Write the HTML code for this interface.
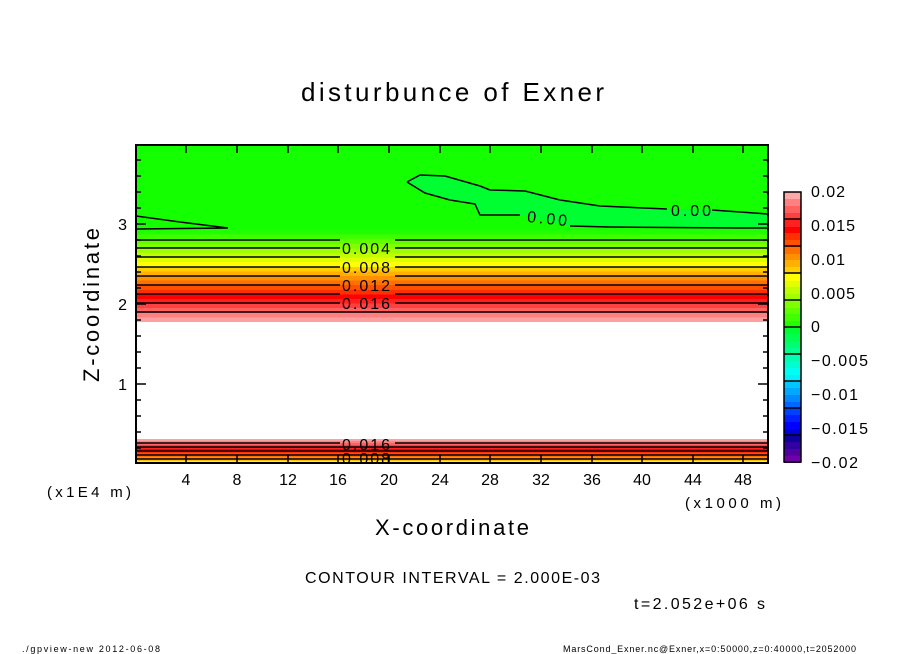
<!DOCTYPE html>
<html><head><meta charset="utf-8"><style>
html,body{margin:0;padding:0;background:#fff}
svg{display:block;font-family:"Liberation Sans","DejaVu Sans",sans-serif}
</style></head><body>
<svg width="904" height="654" viewBox="0 0 904 654" xmlns="http://www.w3.org/2000/svg">
<rect width="904" height="654" fill="#fff"/>
<text x="301" y="101" font-size="26" textLength="303" lengthAdjust="spacing">disturbunce of Exner</text>
<rect x="136" y="145" width="632" height="85" fill="#14ff00"/>
<g shape-rendering="crispEdges">
<rect x="136" y="230" width="632" height="4.6" fill="#20ff00"/>
<rect x="136" y="234.6" width="632" height="4.6" fill="#40ff00"/>
<rect x="136" y="239.2" width="632" height="4.6" fill="#60ff00"/>
<rect x="136" y="243.8" width="632" height="4.6" fill="#80ff00"/>
<rect x="136" y="248.4" width="632" height="4.6" fill="#a0ff00"/>
<rect x="136" y="253" width="632" height="4.6" fill="#c0ff00"/>
<rect x="136" y="257.6" width="632" height="4.6" fill="#e0ff00"/>
<rect x="136" y="262.2" width="632" height="4.6" fill="#ffff00"/>
<rect x="136" y="266.8" width="632" height="4.6" fill="#ffd000"/>
<rect x="136" y="271.4" width="632" height="4.6" fill="#ffb000"/>
<rect x="136" y="276" width="632" height="4.6" fill="#ff9000"/>
<rect x="136" y="280.6" width="632" height="4.6" fill="#ff7000"/>
<rect x="136" y="285.2" width="632" height="4.6" fill="#ff5000"/>
<rect x="136" y="289.8" width="632" height="4.6" fill="#ff3000"/>
<rect x="136" y="294.4" width="632" height="4.6" fill="#ff0000"/>
<rect x="136" y="299" width="632" height="4.6" fill="#ff2020"/>
<rect x="136" y="303.6" width="632" height="4.6" fill="#ff4040"/>
<rect x="136" y="308.2" width="632" height="4.6" fill="#ff6060"/>
<rect x="136" y="312.8" width="632" height="4.6" fill="#ff8080"/>
<rect x="136" y="317.4" width="632" height="4.6" fill="#ffa0a0"/>
<rect x="136" y="439" width="632" height="2" fill="#ffa0a0"/>
<rect x="136" y="441" width="632" height="2" fill="#ff8080"/>
<rect x="136" y="443" width="632" height="2" fill="#ff6060"/>
<rect x="136" y="445" width="632" height="2" fill="#ff4040"/>
<rect x="136" y="447" width="632" height="2" fill="#ff2020"/>
<rect x="136" y="449" width="632" height="2" fill="#ff0000"/>
<rect x="136" y="451" width="632" height="2" fill="#ff3000"/>
<rect x="136" y="453" width="632" height="2" fill="#ff5000"/>
<rect x="136" y="455" width="632" height="2" fill="#ff7000"/>
<rect x="136" y="457" width="632" height="2" fill="#ff9000"/>
<rect x="136" y="459" width="632" height="2" fill="#ffc000"/>
<rect x="136" y="461" width="632" height="2" fill="#ffff00"/>
</g>
<path d="M407,181 L420,175 L445,176 L480,186 L490,190 L525,191 L560,200 L600,206 L667,209 L712,210 L768,214 L768,228 L740,228 L610,227 L570,226 L520,215 L480,215 L475,204 L450,200 L425,193 Z" fill="#00ff30"/>
<g fill="none" stroke="#000" stroke-width="1.5">
<path d="M407,182 L420,175 L445,176 L480,186 L490,190 L525,191 L560,200 L600,206 L667,209"/>
<path d="M712,210 L768,214"/>
<path d="M407,182 L425,193 L450,200 L475,204 L480,215 L520,215"/>
<path d="M570,226 L610,227 L740,228 L768,228"/>
<path d="M136,216 L180,222 L228,228 L136,229"/>
<path d="M136,240 L340,240 M395,240 L768,240"/>
<path d="M136,248 L340,248 M395,248 L768,248"/>
<path d="M136,257 L340,257 M395,257 L768,257"/>
<path d="M136,267 L340,267 M395,267 L768,267"/>
<path d="M136,276 L340,276 M395,276 L768,276"/>
<path d="M136,285 L340,285 M395,285 L768,285"/>
<path d="M136,294 L340,294 M395,294 L768,294"/>
<path d="M136,303 L340,303 M395,303 L768,303"/>
<path d="M136,312 L768,312"/>
<path d="M136,443 L340,443 M395,443 L768,443"/>
<path d="M136,447 L768,447"/>
<path d="M136,451 L768,451"/>
<path d="M136,455 L768,455"/>
<path d="M136,459 L768,459"/>
</g>
<g font-size="16">
<text x="342" y="254" textLength="48">0.004</text>
<text x="342" y="273" textLength="48">0.008</text>
<text x="342" y="291" textLength="48">0.012</text>
<text x="342" y="309" textLength="48">0.016</text>
<text x="671" y="216" textLength="40">0.00</text>
<text x="527" y="224" textLength="40" transform="rotate(6 547 220)">0.00</text>
<text x="342" y="450" textLength="48">0.016</text>
<text x="342" y="464" textLength="48">0.008</text>
</g>
<rect x="136" y="145" width="632" height="318" fill="none" stroke="#000" stroke-width="2"/>
<g stroke="#000" stroke-width="1.5">
<path d="M186,463v-8M237,463v-8M288,463v-8M338,463v-8M389,463v-8M440,463v-8M490,463v-8M541,463v-8M592,463v-8M642,463v-8M693,463v-8M743,463v-8"/>
<path d="M186,145v8M237,145v8M288,145v8M338,145v8M389,145v8M440,145v8M490,145v8M541,145v8M592,145v8M642,145v8M693,145v8M743,145v8"/>
<path d="M136,384h10M136,304h10M136,224h10M768,384h-10M768,304h-10M768,224h-10"/>
<path d="M136,448h5M136,432h5M136,416h5M136,400h5M136,368h5M136,352h5M136,336h5M136,320h5M136,288h5M136,272h5M136,256h5M136,240h5M136,208h5M136,192h5M136,176h5M136,160h5"/>
<path d="M768,448h-5M768,432h-5M768,416h-5M768,400h-5M768,368h-5M768,352h-5M768,336h-5M768,320h-5M768,288h-5M768,272h-5M768,256h-5M768,240h-5M768,208h-5M768,192h-5M768,176h-5M768,160h-5"/>
</g>
<g font-size="16" text-anchor="middle">
<text x="186" y="485">4</text><text x="237" y="485">8</text><text x="288" y="485">12</text>
<text x="338" y="485">16</text><text x="389" y="485">20</text><text x="440" y="485">24</text>
<text x="490" y="485">28</text><text x="541" y="485">32</text><text x="592" y="485">36</text>
<text x="642" y="485">40</text><text x="693" y="485">44</text><text x="743" y="485">48</text>
</g>
<g font-size="16" text-anchor="end">
<text x="127" y="390">1</text><text x="127" y="310">2</text><text x="127" y="230">3</text>
</g>
<text x="47" y="497" font-size="15" textLength="84">(x1E4 m)</text>
<text x="685" y="508" font-size="15" textLength="96">(x1000 m)</text>
<text x="375" y="535" font-size="22" textLength="154">X-coordinate</text>
<text x="0" y="0" font-size="22" textLength="154" transform="translate(99 382) rotate(-90)">Z-coordinate</text>
<g shape-rendering="crispEdges">
<rect x="784" y="192" width="17" height="7" fill="#ffa8a8"/>
<rect x="784" y="199" width="17" height="7" fill="#ff8080"/>
<rect x="784" y="206" width="17" height="7" fill="#ff6060"/>
<rect x="784" y="213" width="17" height="7" fill="#ff4040"/>
<rect x="784" y="220" width="17" height="7" fill="#ff2020"/>
<rect x="784" y="227" width="17" height="7" fill="#ff0000"/>
<rect x="784" y="233" width="17" height="7" fill="#ff3000"/>
<rect x="784" y="240" width="17" height="7" fill="#ff5000"/>
<rect x="784" y="247" width="17" height="7" fill="#ff7000"/>
<rect x="784" y="254" width="17" height="7" fill="#ff9000"/>
<rect x="784" y="260" width="17" height="7" fill="#ffb000"/>
<rect x="784" y="267" width="17" height="7" fill="#ffd000"/>
<rect x="784" y="274" width="17" height="7" fill="#ffff00"/>
<rect x="784" y="281" width="17" height="7" fill="#e0ff00"/>
<rect x="784" y="287" width="17" height="7" fill="#c0ff00"/>
<rect x="784" y="294" width="17" height="7" fill="#a0ff00"/>
<rect x="784" y="301" width="17" height="7" fill="#80ff00"/>
<rect x="784" y="308" width="17" height="7" fill="#60ff00"/>
<rect x="784" y="314" width="17" height="7" fill="#40ff00"/>
<rect x="784" y="321" width="17" height="7" fill="#20ff00"/>
<rect x="784" y="327" width="17" height="7" fill="#00ff30"/>
<rect x="784" y="334" width="17" height="7" fill="#00ff50"/>
<rect x="784" y="341" width="17" height="7" fill="#00ff70"/>
<rect x="784" y="348" width="17" height="7" fill="#00ff90"/>
<rect x="784" y="354" width="17" height="7" fill="#00ffb0"/>
<rect x="784" y="361" width="17" height="7" fill="#00ffd0"/>
<rect x="784" y="368" width="17" height="7" fill="#00fff0"/>
<rect x="784" y="375" width="17" height="7" fill="#00f0ff"/>
<rect x="784" y="381" width="17" height="7" fill="#00c8ff"/>
<rect x="784" y="388" width="17" height="7" fill="#00a8ff"/>
<rect x="784" y="395" width="17" height="7" fill="#0088ff"/>
<rect x="784" y="402" width="17" height="7" fill="#0068ff"/>
<rect x="784" y="408" width="17" height="7" fill="#0040ff"/>
<rect x="784" y="415" width="17" height="7" fill="#0020ff"/>
<rect x="784" y="422" width="17" height="7" fill="#0000ff"/>
<rect x="784" y="429" width="17" height="7" fill="#0000d8"/>
<rect x="784" y="435" width="17" height="7" fill="#1000a0"/>
<rect x="784" y="442" width="17" height="7" fill="#3000a0"/>
<rect x="784" y="449" width="17" height="7" fill="#5000a0"/>
<rect x="784" y="456" width="17" height="7" fill="#7000a8"/>
</g>
<g stroke="#000" stroke-width="1.5">
<rect x="784" y="192" width="17" height="270" fill="none"/>
<path d="M784,219h17M784,246h17M784,273h17M784,300h17M784,327h17M784,354h17M784,381h17M784,408h17M784,435h17"/>
</g>
<g font-size="16">
<text x="811" y="197" textLength="34">0.02</text><text x="811" y="231" textLength="44">0.015</text>
<text x="811" y="265" textLength="34">0.01</text><text x="811" y="299" textLength="44">0.005</text>
<text x="811" y="332">0</text><text x="811" y="366" textLength="57">−0.005</text>
<text x="811" y="400" textLength="47">−0.01</text><text x="811" y="434" textLength="57">−0.015</text>
<text x="811" y="468" textLength="47">−0.02</text>
</g>
<text x="305" y="583" font-size="16" textLength="295">CONTOUR INTERVAL = 2.000E-03</text>
<text x="634" y="609" font-size="16" textLength="131">t=2.052e+06 s</text>
<text x="22" y="652" font-size="9" textLength="138">./gpview-new   2012-06-08</text>
<text x="563" y="652" font-size="9" textLength="293">MarsCond_Exner.nc@Exner,x=0:50000,z=0:40000,t=2052000</text>
</svg>
</body></html>
